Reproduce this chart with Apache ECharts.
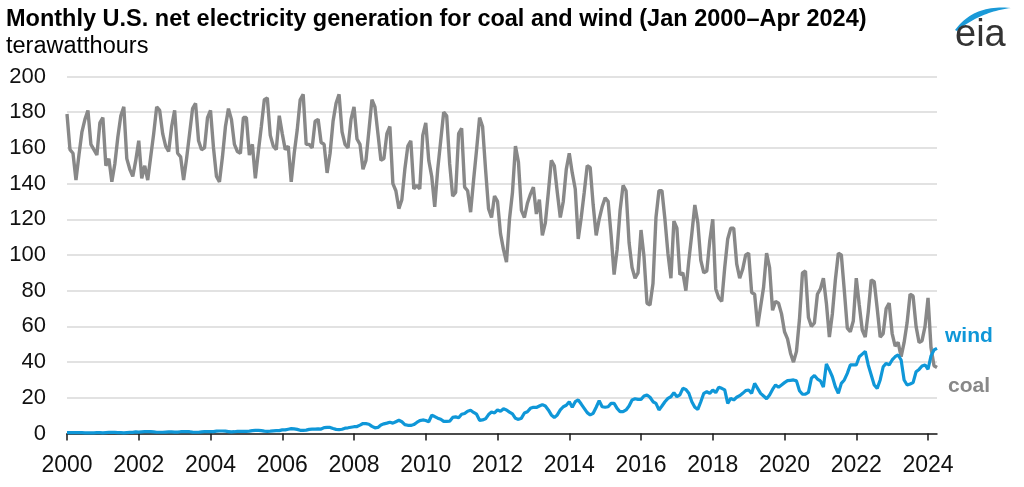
<!DOCTYPE html>
<html>
<head>
<meta charset="utf-8">
<script src="https://cdn.jsdelivr.net/npm/echarts@6/dist/echarts.min.js"></script>
<style>
html,body{margin:0;padding:0;background:#fff;}
#chart{width:1024px;height:487px;}
</style>
</head>
<body>
<div id="chart"></div>
<script>
// Monthly U.S. net generation, terawatthours, Jan 2000 – Apr 2024
var coalTWh = [
  179,159,157,142,156,169,176,181,162,159,156,174, // 2000
  177,150,154,141,151,166,178,183,154,148,144,153, // 2001
  164,143,150,142,155,168,183,181,168,161,158,172, // 2002
  181,157,155,142,154,168,182,185,164,159,160,177, // 2003
  181,160,144,141,155,172,182,176,162,158,157,177, // 2004
  177,156,162,143,158,172,187,188,167,161,159,178, // 2005
  168,159,161,141,157,170,187,190,162,162,160,175, // 2006
  176,163,162,146,157,175,185,190,169,162,160,176, // 2007
  183,165,162,148,153,170,187,183,168,153,154,168, // 2008
  172,140,136,126,131,148,161,164,137,139,137,167, // 2009
  174,153,144,127,148,164,180,178,151,133,135,168, // 2010
  171,138,136,124,142,159,177,172,148,126,121,133, // 2011
  130,112,103,96,120,135,161,152,125,121,129,134,  // 2012
  138,123,131,111,118,135,153,150,135,121,130,148, // 2013
  157,146,137,109,121,135,150,149,128,111,120,127, // 2014
  132,130,111,89,103,125,139,136,107,93,87,90,     // 2015
  114,99,73,72,84,121,136,136,120,101,87,119,      // 2016
  115,89,90,80,97,112,128,118,97,90,91,108,        // 2017
  120,81,76,74,93,109,115,115,95,87,92,100,        // 2018
  101,79,78,60,71,82,101,93,69,74,73,67,           // 2019
  57,53,45,40,46,64,90,91,65,60,62,78,             // 2020
  81,87,73,54,67,86,101,100,80,59,57,63,           // 2021
  87,72,58,54,68,86,85,70,54,56,70,73,             // 2022
  56,49,51,43,51,62,78,77,60,51,52,60,             // 2023
  76,48,38,37                                      // 2024
];
var windTWh = [
  0.5,0.5,0.5,0.5,0.5,0.5,0.4,0.4,0.4,0.4,0.5,0.5, // 2000
  0.4,0.5,0.6,0.6,0.6,0.5,0.5,0.4,0.5,0.6,0.6,0.9, // 2001
  0.8,0.9,1.0,1.0,1.0,0.9,0.7,0.7,0.7,0.8,0.9,0.9, // 2002
  0.8,0.8,1.0,1.1,1.1,1.0,0.8,0.7,0.7,0.9,1.0,1.0, // 2003
  1.0,1.1,1.3,1.4,1.4,1.3,1.1,0.9,1.0,1.2,1.2,1.2, // 2004
  1.2,1.3,1.6,1.7,1.8,1.6,1.3,1.2,1.3,1.5,1.6,1.6, // 2005
  2.0,2.0,2.4,2.7,2.6,2.3,1.8,1.8,1.9,2.3,2.4,2.5, // 2006
  2.6,2.5,3.3,3.4,3.4,2.8,2.3,2.2,2.4,3.0,3.2,3.5, // 2007
  3.8,3.9,4.7,5.6,5.5,5.2,4.0,3.2,3.4,4.8,5.4,5.8, // 2008
  6.3,5.8,6.6,7.4,6.6,5.0,4.6,4.5,5.0,6.2,7.2,7.6, // 2009
  7.3,6.6,10.2,9.5,8.6,8.0,6.8,6.8,6.9,9.0,9.3,8.8, // 2010
  10.8,11.2,12.5,13.0,11.8,10.8,7.4,7.6,8.2,10.6,12.0,11.5, // 2011
  13.2,12.5,13.8,13.2,12.0,11.0,8.5,7.9,8.6,11.5,12.2,14.1, // 2012
  14.7,14.6,15.4,16.2,15.4,13.2,10.4,9.0,10.4,13.2,15.0,15.8, // 2013
  17.8,14.7,17.8,18.8,16.5,14.1,11.7,10.4,11.3,14.7,18.4,15.0, // 2014
  14.7,15.0,16.9,16.9,14.1,12.2,12.2,13.2,15.4,18.8,19.5,19.1, // 2015
  19.1,21.0,21.6,20.3,17.8,16.9,13.2,15.4,17.8,19.7,20.6,22.9, // 2016
  20.6,21.6,25.3,24.7,22.5,17.8,14.7,13.5,17.8,22.5,23.4,22.5, // 2017
  24.4,22.9,25.9,25.3,24.4,16.9,19.7,18.8,20.3,21.2,22.5,24.0, // 2018
  24.4,22.5,28.1,25.3,22.5,21.0,19.5,21.6,24.7,27.2,25.9,27.2, // 2019
  28.5,29.6,29.8,30.0,29.5,24.0,22.0,22.0,23.0,31.0,32.5,30.5, // 2020
  29.5,26.0,39.0,35.6,31.8,26.2,22.5,28.1,30.0,33.7,38.4,38.4, // 2021
  38.4,43.0,44.5,46.0,38.4,32.8,27.2,25.3,30.0,37.4,39.3,38.4, // 2022
  41.2,43.0,44.0,41.2,30.0,27.2,27.7,28.5,34.6,35.9,37.8,38.4, // 2023
  36.0,43.5,46.8,47.7                                          // 2024
];
var yearTicks = ['2000','2002','2004','2006','2008','2010','2012','2014','2016','2018','2020','2022','2024'];
var yTicks = [0,20,40,60,80,100,120,140,160,180,200];

var categories = [];
for (var i = 0; i < coalTWh.length; i++) {
  var yr = 2000 + Math.floor(i / 12), mo = (i % 12) + 1;
  categories.push(yr + '-' + (mo < 10 ? '0' : '') + mo);
}

function isYearTick(idx, val) {
  return yearTicks.indexOf(String(val).slice(0, 4)) >= 0 && String(val).slice(5) === '01';
}

// crescent swoosh of the logo (decoration)
function quad(p0, c, p1, n) {
  var pts = [];
  for (var k = 0; k <= n; k++) {
    var t = k / n, u = 1 - t;
    pts.push([u*u*p0[0] + 2*u*t*c[0] + t*t*p1[0], u*u*p0[1] + 2*u*t*c[1] + t*t*p1[1]]);
  }
  return pts;
}
var swoosh = quad([955, 30], [974, 4], [1011, 8], 24).concat(quad([1011, 8], [980, 12], [957, 31], 24));

var FONT = '"Liberation Sans", Arial, sans-serif';
var chart = echarts.init(document.getElementById('chart'), null, {renderer: 'canvas'});
chart.setOption({
  animation: false,
  backgroundColor: '#fff',
  grid: {left: 67, right: 87, top: 76.5, bottom: 53.5},
  xAxis: {
    type: 'category',
    data: categories,
    boundaryGap: false,
    axisLine: {lineStyle: {color: '#1a1a1a', width: 1.5}},
    axisTick: {length: 7, lineStyle: {color: '#1a1a1a', width: 1.5}, interval: isYearTick},
    axisLabel: {
      margin: 21, fontSize: 23, fontFamily: FONT, color: '#111',
      interval: isYearTick,
      formatter: function (val) { return String(val).slice(0, 4); }
    },
    splitLine: {show: false}
  },
  yAxis: {
    type: 'value',
    min: yTicks[0],
    max: yTicks[yTicks.length - 1],
    interval: 20,
    axisLine: {show: false},
    axisTick: {show: false},
    axisLabel: {margin: 21, fontSize: 22, fontFamily: FONT, color: '#111'},
    splitLine: {lineStyle: {color: '#d9d9d9', width: 1.5}}
  },
  series: [
    {name: 'coal', type: 'line', data: coalTWh, showSymbol: false,
     lineStyle: {color: '#888888', width: 3.4}, itemStyle: {color: '#888888'}},
    {name: 'wind', type: 'line', data: windTWh, showSymbol: false,
     lineStyle: {color: '#0f97d8', width: 3.2}, itemStyle: {color: '#0f97d8'}}
  ],
  graphic: [
    {type: 'text', x: 6, y: 8, style: {text: 'Monthly U.S. net electricity generation for coal and wind (Jan 2000\u2013Apr 2024)', font: 'bold 23.5px ' + FONT, fill: '#000'}},
    {type: 'text', x: 6, y: 35, style: {text: 'terawatthours', font: '23.5px ' + FONT, fill: '#000'}},
    {type: 'text', x: 945, y: 326, style: {text: 'wind', font: 'bold 21px ' + FONT, fill: '#0f97d8'}},
    {type: 'text', x: 948, y: 376, style: {text: 'coal', font: 'bold 21px ' + FONT, fill: '#888888'}},
    {type: 'polygon', shape: {points: swoosh}, style: {fill: '#1a9ad8'}},
    {type: 'text', x: 955, y: 17, style: {text: 'eia', font: '38px ' + FONT, fill: '#333'}}
  ]
});
</script>
</body>
</html>
